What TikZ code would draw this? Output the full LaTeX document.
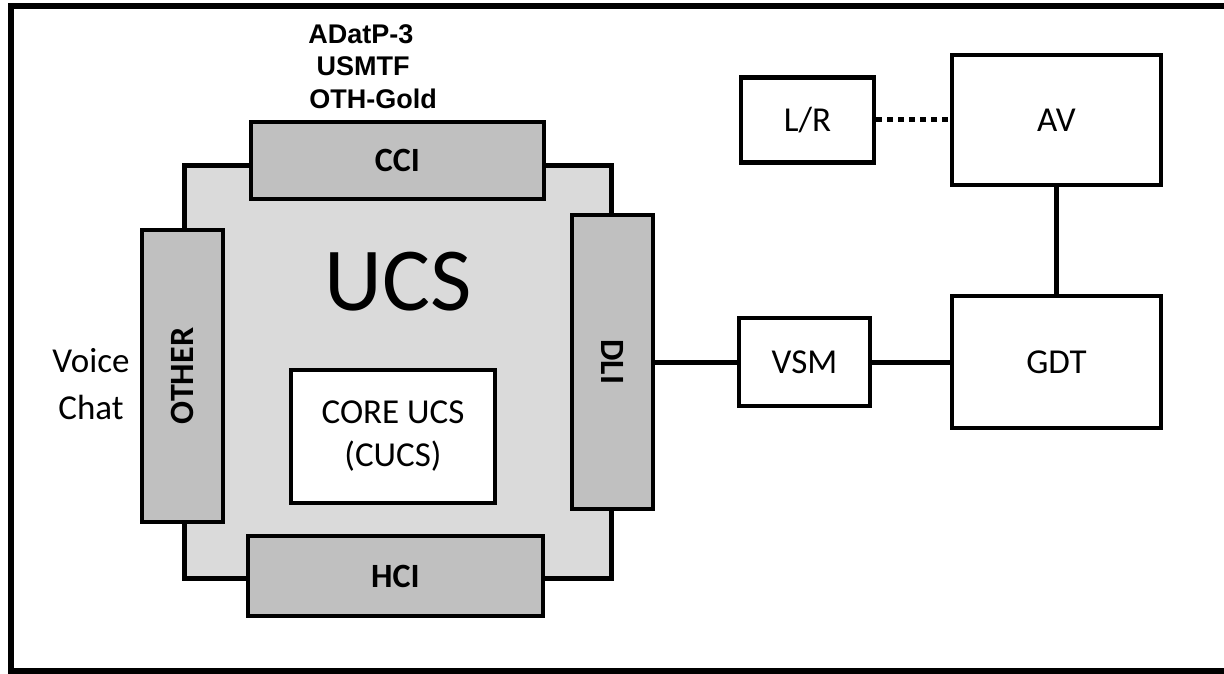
\documentclass[tikz,border=0pt]{standalone}
\usepackage{graphicx}
\usepackage{fontspec}
\setmainfont{Carlito}
\newfontfamily\arialfont{Liberation Sans}
\usetikzlibrary{positioning}
\definecolor{ucsgray}{RGB}{218,218,218}
\definecolor{ifgray}{RGB}{192,192,192}

\begin{document}
\begin{tikzpicture}[x=1pt,y=-1pt,
  unit/.style={draw,line width=4.5pt,fill=white,inner sep=0pt,font=\fontsize{35}{40}\selectfont},
  iface/.style={unit,fill=ifgray,font=\bfseries\fontsize{34}{38}\selectfont},
  fmt/.style={font=\arialfont\bfseries\fontsize{27}{30}\selectfont,inner sep=0pt},
  link/.style={line width=5pt}]
\useasboundingbox (0,0) rectangle (1224,674);
\draw[line width=6pt] (1224,6) -- (11,6) -- (11,671) -- (1224,671);
\node[unit,fill=ucsgray,line width=5pt,minimum width=427pt,minimum height=412pt] (ucs) at (397.5,372) {};
\node[font=\fontsize{90}{92}\selectfont,inner sep=0pt] (ucslabel) at (398,282) {UCS};
\node[iface,minimum width=293pt,minimum height=77pt] (cci) at (397.5,160.5) {CCI};
\node[iface,minimum width=295pt,minimum height=80pt] (hci) at (395.5,576) {HCI};
\node[iface,minimum width=81pt,minimum height=292pt] (other) at (182.5,376) {\rotatebox{90}{OTHER}};
\node[iface,minimum width=81pt,minimum height=294pt] (dli) at (612.5,362) {\rotatebox{-90}{DLI}};
\node[unit,minimum width=204pt,minimum height=133pt,align=center,font=\fontsize{35}{43}\selectfont] (core) at (393,436.5) {CORE UCS\\(CUCS)};
\foreach \nm/\xx/\yy/\txt in {adatp/361/34/ADatP-3,usmtf/363/66/USMTF,othgold/373/99/OTH-Gold} {\node[fmt] (\nm) at (\xx,\yy) {\txt};}
\node[align=center,font=\fontsize{35}{47}\selectfont] (voice) at (91,384) {Voice\\Chat};
\node[unit,minimum width=133pt,minimum height=85pt] (lr) at (807.5,120) {L/R};
\node[unit,minimum width=209pt,minimum height=130pt] (av) at (1056.5,120) {AV};
\node[unit,minimum width=131pt,minimum height=88pt] (vsm) at (804.5,362) {VSM};
\node[unit,minimum width=209pt,minimum height=132pt] (gdt) at (1056.5,362) {GDT};
\draw[link] (dli) -- (vsm);
\draw[link] (vsm) -- (gdt);
\draw[link] (av) -- (gdt);
\draw[link,dash pattern=on 6pt off 5pt] (lr) -- (av);
\end{tikzpicture}
\end{document}
